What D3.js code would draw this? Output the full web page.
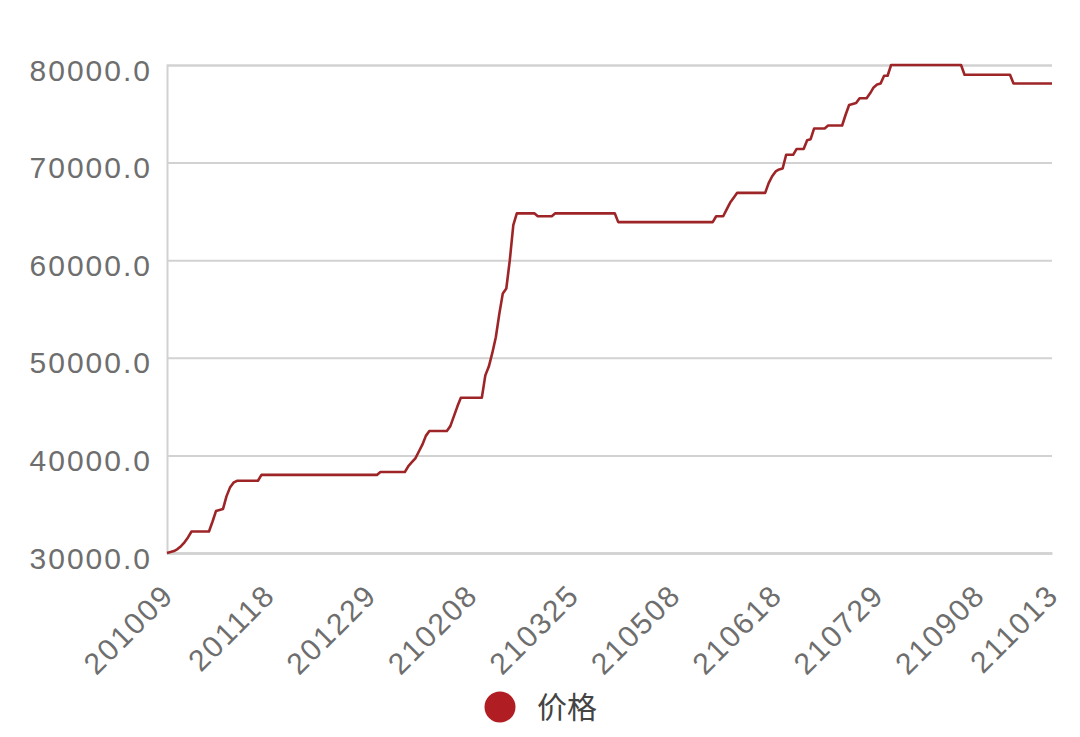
<!DOCTYPE html>
<html>
<head>
<meta charset="utf-8">
<script src="https://cdn.jsdelivr.net/npm/d3@7"></script>
<style>
html,body{margin:0;padding:0;background:#fff;}
svg{display:block;}
</style>
</head>
<body>
<svg id="chart" width="1080" height="737"></svg>
<script>
// ---- data ----
const dates = [
"201009","201010","201012","201013","201014","201015","201016","201019","201020","201021","201022","201023","201026","201027","201028","201029","201030",
"201102","201103","201104","201105","201106","201109","201110","201111","201112","201113","201116","201117","201118","201119","201120","201123","201124","201125","201126","201127","201130",
"201201","201202","201203","201204","201207","201208","201209","201210","201211","201214","201215","201216","201217","201218","201221","201222","201223","201224","201225","201228","201229","201230","201231",
"210104","210105","210106","210107","210108","210111","210112","210113","210114","210115","210118","210119","210120","210121","210122","210125","210126","210127","210128","210129",
"210201","210202","210203","210204","210205","210207","210208","210209","210210","210218","210219","210220","210222","210223","210224","210225","210226",
"210301","210302","210303","210304","210305","210308","210309","210310","210311","210312","210315","210316","210317","210318","210319","210322","210323","210324","210325","210326","210329","210330","210331",
"210401","210402","210406","210407","210408","210409","210412","210413","210414","210415","210416","210419","210420","210421","210422","210423","210425","210426","210427","210428","210429","210430",
"210506","210507","210508","210510","210511","210512","210513","210514","210517","210518","210519","210520","210521","210524","210525","210526","210527","210528","210531",
"210601","210602","210603","210604","210607","210608","210609","210610","210611","210615","210616","210617","210618","210621","210622","210623","210624","210625","210628","210629","210630",
"210701","210702","210705","210706","210707","210708","210709","210712","210713","210714","210715","210716","210719","210720","210721","210722","210723","210726","210727","210728","210729","210730",
"210802","210803","210804","210805","210806","210809","210810","210811","210812","210813","210816","210817","210818","210819","210820","210823","210824","210825","210826","210827","210830","210831",
"210901","210902","210903","210906","210907","210908","210909","210910","210913","210914","210915","210916","210917","210918","210922","210923","210924","210926","210927","210928","210929","210930",
"211008","211009","211011","211012","211013"
];

const prices = [
30000,30100,30200,30400,30700,31100,31600,
32200,32200,32200,32200,32200,32200,
33200,34300,34400,34500,35800,36700,37200,
37400,37400,37400,37400,37400,37400,37400,
38000,38000,38000,38000,38000,38000,38000,38000,38000,38000,
38000,38000,38000,38000,38000,38000,38000,38000,38000,38000,
38000,38000,38000,38000,38000,38000,38000,38000,38000,38000,
38000,38000,38000,38000,
38300,38300,38300,38300,38300,38300,38300,38300,
38900,39300,39700,40400,41100,42000,
42500,42500,42500,42500,42500,42500,
43000,44000,45000,
45900,45900,45900,45900,45900,45900,45900,
48200,49100,50500,52100,54500,56600,57100,60000,63600,
64800,64800,64800,64800,64800,64800,
64500,64500,64500,64500,64500,
64800,64800,64800,64800,64800,64800,64800,64800,64800,
64800,64800,64800,64800,64800,64800,64800,64800,64800,
63900,63900,63900,63900,63900,63900,63900,63900,63900,63900,
63900,63900,63900,63900,63900,63900,63900,63900,63900,63900,
63900,63900,63900,63900,63900,63900,63900,63900,
64500,64500,64500,
65200,65900,66400,
66900,66900,66900,66900,66900,66900,66900,66900,66900,
67900,68600,69100,69300,69400,
70800,70800,70800,
71400,71400,71400,
72300,72400,
73500,73500,73500,73500,
73800,73800,73800,73800,73800,
74900,75900,76000,76100,
76600,76600,76600,
77100,77700,78000,78100,
78900,78900,
80000,80000,80000,80000,80000,80000,80000,80000,80000,80000,
80000,80000,80000,80000,80000,80000,80000,80000,80000,80000,80000,
79000,79000,79000,79000,79000,79000,79000,
79000,79000,79000,79000,79000,79000,79000,
78100,78100,78100,78100,78100,78100,
78100,78100,78100,78100,78100,78100
];

const xTickLabels = ["201009","201118","201229","210208","210325","210508","210618","210729","210908","211013"];
const yTicks = [30000,40000,50000,60000,70000,80000];
const seriesName = "价格";

// ---- drawing ----
const svg = d3.select("#chart");
const plotLeft = 167, plotRight = 1052, plotTop = 65, plotBottom = 553;
const gridColor = "#d2d2d2";
const labelColor = "#6e6e6e";
const lineColor = "#9e2527";

const x = d3.scalePoint().domain(dates).range([plotLeft, plotRight]);
const y = d3.scaleLinear().domain([30000, 80000]).range([plotBottom, plotTop]);

// gridlines + y labels
const yAxis = d3.axisLeft(y).tickValues(yTicks).tickSize(-(plotRight-plotLeft)).tickPadding(15)
  .tickFormat(d3.format(".1f"));
const gy = svg.append("g").attr("transform", `translate(${plotLeft},0)`).call(yAxis);
gy.select(".domain").attr("stroke", gridColor).attr("stroke-width", 2);
gy.selectAll(".tick line").attr("stroke", gridColor).attr("stroke-width", 2);
gy.selectAll(".tick text")
  .attr("fill", labelColor)
  .attr("font-family", "'Liberation Sans', Arial, sans-serif")
  .attr("font-size", 30)
  .attr("letter-spacing", "2px")
  .attr("dy", "0.5em");

// x axis
const xAxis = d3.axisBottom(x).tickValues(xTickLabels).tickSize(0).tickPadding(0);
const gx = svg.append("g").attr("transform", `translate(0,${plotBottom})`).call(xAxis);
gx.select(".domain").attr("stroke", gridColor).attr("stroke-width", 2.5);
gx.selectAll(".tick text")
  .attr("fill", labelColor)
  .attr("font-family", "'Liberation Sans', Arial, sans-serif")
  .attr("font-size", 30)
  .attr("letter-spacing", "2px")
  .attr("text-anchor", "end")
  .attr("dy", null)
  .attr("y", 0)
  .attr("transform", "translate(8,44) rotate(-45)");

// line
const line = d3.line().x((d, i) => x(dates[i])).y(d => y(d));
svg.append("path")
  .datum(prices)
  .attr("fill", "none")
  .attr("stroke", lineColor)
  .attr("stroke-width", 2.6)
  .attr("stroke-linejoin", "round")
  .attr("d", line);

// legend
const lg = svg.append("g").attr("transform", "translate(500,707)");
lg.append("circle").attr("r", 15.5).attr("fill", "#b01e23");
lg.append("text").attr("x", 37).attr("y", 0).attr("dy", "0.36em")
  .attr("font-family", "'Noto Sans CJK SC', sans-serif")
  .attr("font-size", 30).attr("fill", "#444").text(seriesName);
</script>
</body>
</html>
